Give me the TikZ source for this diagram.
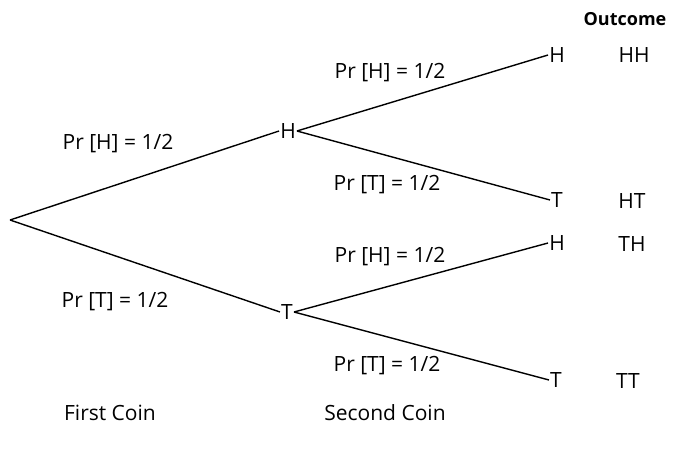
\documentclass[tikz,border=0pt]{standalone}
\usepackage{fontspec}
\setmainfont{Open Sans}
\begin{document}
\begin{tikzpicture}[x=1pt,y=-1pt,
  lbl/.style={font=\fontsize{21}{25}\selectfont},
  st/.style={lbl,inner sep=1pt},
  br/.style={line width=1.4pt}]
\useasboundingbox (0,0) rectangle (686,454);
\coordinate (r) at (10,220);
\node[st] (h1) at (288,131) {H};
\node[st] (t1) at (287,312) {T};
\node[st] (hh) at (557,55) {H};
\node[st] (ht) at (557,200) {T};
\node[st] (th) at (557,243) {H};
\node[st] (tt) at (556,380) {T};
\draw[br] (r) -- (h1.west);
\draw[br] (r) -- (t1.west);
\draw[br] (h1.east) -- (hh.west);
\draw[br] (h1.east) -- (ht.west);
\draw[br] (t1.east) -- (th.west);
\draw[br] (t1.east) -- (tt.west);
\node[font=\fontsize{18}{22}\selectfont\bfseries] (oc) at (625,19) {Outcome};
\node[lbl] (ohh) at (634,55) {HH};
\node[lbl] (oht) at (632,201) {HT};
\node[lbl] (oth) at (632,244) {TH};
\node[lbl] (ott) at (628,381) {TT};
\node[lbl] (p1) at (118,144) {Pr [H] = 1/2};
\node[lbl] (p2) at (115,302) {Pr [T] = 1/2};
\node[lbl] (p3) at (390,73) {Pr [H] = 1/2};
\node[lbl] (p4) at (387,185) {Pr [T] = 1/2};
\node[lbl] (p5) at (390,257) {Pr [H] = 1/2};
\node[lbl] (p6) at (387,366) {Pr [T] = 1/2};
\node[lbl] (fc) at (110,413) {First Coin};
\node[lbl] (sc) at (385,413) {Second Coin};
\end{tikzpicture}
\end{document}
